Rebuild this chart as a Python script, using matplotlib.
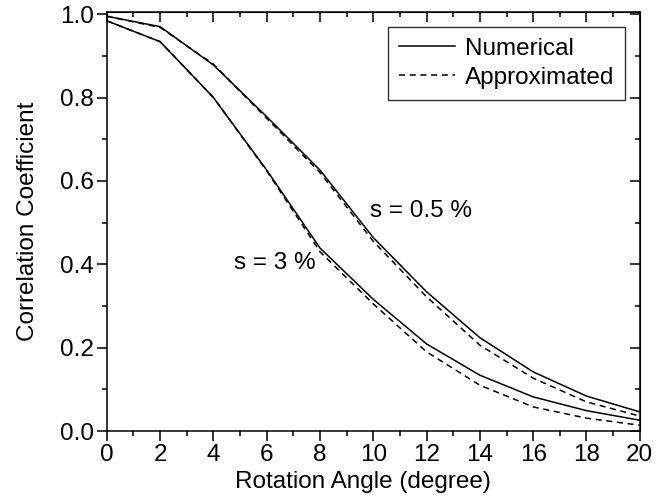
import numpy as np
import matplotlib
matplotlib.use("Agg")
import matplotlib.pyplot as plt
from matplotlib.ticker import MultipleLocator

plt.rcParams["font.family"] = ["Liberation Sans", "DejaVu Sans"]

angle = [0, 2, 4, 6, 8, 10, 12, 14, 16, 18, 20]

# s = 0.5 %
num_05 = [0.995, 0.970, 0.878, 0.754, 0.626, 0.464, 0.334, 0.224, 0.142, 0.084, 0.046]
app_05 = [0.995, 0.968, 0.880, 0.750, 0.620, 0.455, 0.322, 0.206, 0.127, 0.070, 0.036]
# s = 3 %
num_3 = [0.984, 0.934, 0.800, 0.626, 0.439, 0.316, 0.209, 0.134, 0.082, 0.049, 0.026]
app_3 = [0.984, 0.934, 0.800, 0.624, 0.430, 0.305, 0.190, 0.110, 0.058, 0.031, 0.014]

FS = 17.5

fig = plt.figure(figsize=(6.72, 5.03), dpi=100)
ax = fig.add_axes([0.159, 0.143, 0.793, 0.833])

lw = 1.1
ax.plot(angle, num_05, color="black", lw=lw, label="Numerical")
ax.plot(angle, app_05, color="black", lw=lw, ls=(0, (4, 3)), label="Approximated")
ax.plot(angle, num_3, color="black", lw=lw)
ax.plot(angle, app_3, color="black", lw=lw, ls=(0, (4, 3)))

ax.text(11.8, 0.529, "s = 0.5 %", fontsize=FS, ha="center", va="center")
ax.text(6.3, 0.402, "s = 3 %", fontsize=FS, ha="center", va="center")

ax.set_xlim(0, 20)
ax.set_ylim(0, 1.005)
ax.xaxis.set_major_locator(MultipleLocator(2))
ax.xaxis.set_minor_locator(MultipleLocator(1))
ax.yaxis.set_major_locator(MultipleLocator(0.2))
ax.yaxis.set_minor_locator(MultipleLocator(0.1))
ax.yaxis.set_major_formatter(plt.FormatStrFormatter("%.1f"))

ax.tick_params(which="both", direction="out", labelsize=FS, width=1.1, pad=2.5)
ax.tick_params(which="major", length=7)
ax.tick_params(which="minor", length=3.5)

# mirrored inward ticks on top and right
axt = ax.secondary_xaxis("top")
axt.xaxis.set_major_locator(MultipleLocator(2))
axt.xaxis.set_minor_locator(MultipleLocator(1))
axt.tick_params(which="both", direction="in", labeltop=False, width=1.1)
axt.tick_params(which="major", length=7)
axt.tick_params(which="minor", length=3.5)
axr = ax.secondary_yaxis("right")
axr.yaxis.set_major_locator(MultipleLocator(0.2))
axr.yaxis.set_minor_locator(MultipleLocator(0.1))
axr.tick_params(which="both", direction="in", labelright=False, width=1.1)
axr.tick_params(which="major", length=7)
axr.tick_params(which="minor", length=3.5)

for spine in ax.spines.values():
    spine.set_linewidth(1.1)

ax.set_xlabel("Rotation Angle (degree)", fontsize=FS, labelpad=2)
ax.xaxis.set_label_coords(0.48, -0.095)
ax.set_ylabel("Correlation Coefficient", fontsize=FS, labelpad=15)

leg = ax.legend(loc="upper right", fontsize=FS, frameon=True, fancybox=False,
                edgecolor="black", handlelength=2.3, handletextpad=0.4,
                borderpad=0.45, labelspacing=0.3, borderaxespad=0,
                bbox_to_anchor=(0.972, 0.965))
leg.get_frame().set_linewidth(1.0)

fig.savefig("out.png", dpi=100)
